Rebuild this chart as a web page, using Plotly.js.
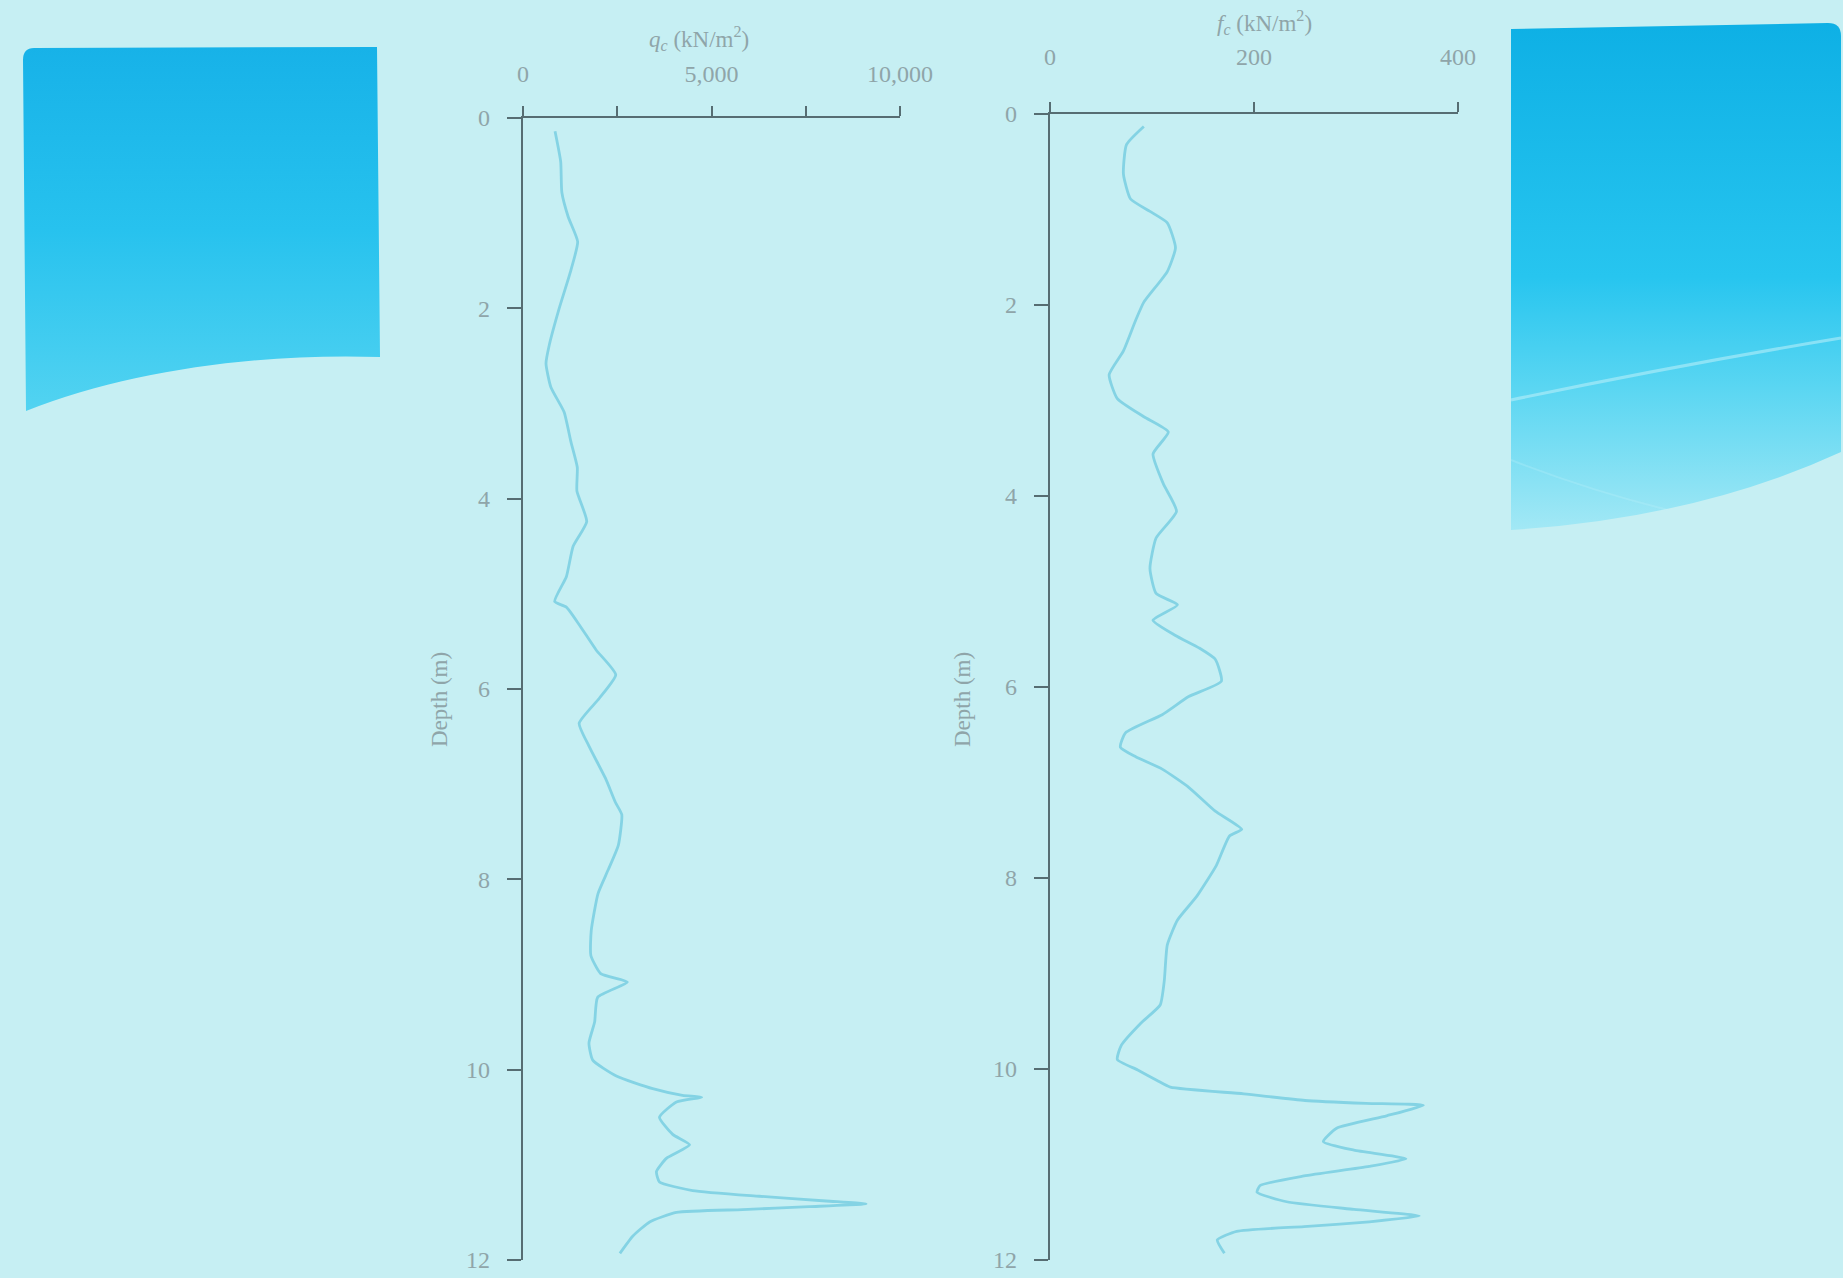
<!DOCTYPE html>
<html>
<head>
<meta charset="utf-8">
<script src="https://cdn.plot.ly/plotly-3.0.1.min.js"></script>
<style>
html,body{margin:0;padding:0;background:#c6eff3;}
#chart{width:1843px;height:1278px;}
</style>
</head>
<body>
<div id="chart"></div>
<script>
// ---- Data (CPT sounding) ----
const depthQc = [0.14,0.46,0.78,1.04,1.3,1.6,2.0,2.38,2.58,2.83,3.09,3.4,3.67,3.92,4.24,4.5,4.82,5.08,5.14,5.33,5.59,5.85,6.1,6.36,6.6,6.94,7.19,7.32,7.64,7.9,8.15,8.54,8.8,8.99,9.08,9.24,9.5,9.72,9.9,10.07,10.2,10.27,10.29,10.34,10.5,10.68,10.79,10.93,11.07,11.18,11.27,11.33,11.38,11.41,11.44,11.47,11.5,11.6,11.75,11.93];
const qc = [850,1000,1030,1200,1450,1270,960,700,610,740,1090,1270,1440,1430,1690,1330,1150,840,1150,1500,1940,2460,2020,1490,1750,2190,2450,2620,2530,2260,1990,1810,1800,2060,2770,1980,1900,1750,1850,2490,3440,4230,4740,4070,3620,3970,4420,3810,3540,3620,4500,6270,8040,9100,7590,5820,4070,3360,2910,2570];

const depthFc = [0.13,0.32,0.63,0.89,1.02,1.14,1.4,1.65,1.97,2.16,2.48,2.73,2.98,3.17,3.33,3.56,3.87,4.16,4.44,4.76,5.02,5.14,5.3,5.46,5.59,5.71,5.94,6.1,6.29,6.48,6.63,6.73,6.86,7.05,7.3,7.49,7.56,7.87,8.19,8.44,8.7,9.08,9.33,9.52,9.75,9.9,10.01,10.12,10.19,10.26,10.33,10.36,10.38,10.49,10.62,10.76,10.85,10.94,11.02,11.12,11.22,11.29,11.39,11.47,11.54,11.6,11.65,11.7,11.79,11.93];
const fc = [92,75,72,79,98,115,123,115,92,84,72,58,66,92,116,101,111,124,104,98,104,125,101,123,146,162,168,136,110,74,69,84,110,136,162,188,176,163,144,125,115,112,108,89,70,66,86,105,118,190,250,310,366,330,281,268,298,349,313,249,206,203,232,298,362,313,249,183,164,171];

const qcTicks = [0,5000,10000];
const qcTickText = ['0','5,000','10,000'];
const qcMinorTicks = [2500,7500];
const fcTicks = [0,200,400];
const fcTickText = ['0','200','400'];
const depthTicks = [0,2,4,6,8,10,12];
const depthTickText = ['0','2','4','6','8','10','12'];

// ---- Styling ----
const W = 1843, H = 1278;
const lineCol = '#84d3e4';
const axisCol = '#566d72';
const textCol = '#8fa5a9';
const serif = 'Liberation Serif, Times New Roman, serif';

function px(x){return x/W;}
function py(y){return 1 - y/H;}

const traces = [
  {x: qc, y: depthQc, xaxis:'x', yaxis:'y', mode:'lines', type:'scatter',
   line:{color:lineCol, width:2.8, shape:'spline', smoothing:0.5}, hoverinfo:'x+y'},
  {x: fc, y: depthFc, xaxis:'x2', yaxis:'y2', mode:'lines', type:'scatter',
   line:{color:lineCol, width:2.8, shape:'spline', smoothing:0.5}, hoverinfo:'x+y'}
];

const tickFont = {family: serif, size: 24, color: textCol};

function xAx(domain, range, vals, text, anchor, standoff, minorVals){
  const ax = {domain: domain, range: range, side:'top', anchor: anchor,
    tickmode:'array', tickvals: vals, ticktext: text,
    ticks:'outside', ticklen:10, tickwidth:2, tickcolor:axisCol,
    showline:true, linewidth:2.2, linecolor:axisCol,
    showgrid:false, zeroline:false, fixedrange:true,
    tickfont: tickFont, ticklabelstandoff: standoff};
  if (minorVals) {
    ax.minor = {tickmode:'array', tickvals: minorVals, ticks:'outside', ticklen:10,
                tickwidth:2, tickcolor:axisCol, showgrid:false};
  }
  return ax;
}
function yAx(domain, anchor){
  return {domain: domain, range:[12,0], anchor: anchor,
    tickmode:'array', tickvals: depthTicks, ticktext: depthTickText,
    ticks:'outside', ticklen:14, tickwidth:2, tickcolor:axisCol,
    showline:true, linewidth:2.2, linecolor:axisCol,
    showgrid:false, zeroline:false, fixedrange:true,
    tickfont: tickFont, ticklabelstandoff: 12};
}

// decorative slide blocks (gradient) as inline SVG images
const leftSvg = '<svg xmlns="http://www.w3.org/2000/svg" width="362" height="370" viewBox="0 0 362 370">'+
 '<defs><linearGradient id="g" x1="0" y1="0" x2="0" y2="1">'+
 '<stop offset="0" stop-color="#17b2e8"/><stop offset="0.5" stop-color="#27c2ee"/><stop offset="1" stop-color="#52d3f1"/></linearGradient></defs>'+
 '<path d="M14,4 L357,3 L360,313 C240,309 110,326 6,367 L3,16 Q3,4 14,4 Z" fill="url(#g)"/></svg>';
const rightSvg = '<svg xmlns="http://www.w3.org/2000/svg" width="335" height="512" viewBox="0 0 335 512">'+
 '<defs><linearGradient id="g" x1="0" y1="0" x2="0" y2="1">'+
 '<stop offset="0" stop-color="#0eb0e5"/><stop offset="0.5" stop-color="#27c5ef"/><stop offset="0.72" stop-color="#5ad6f2"/><stop offset="1" stop-color="#a2e8f5"/></linearGradient></defs>'+
 '<path d="M3,9 L320,3 Q333,3 333,16 L333,432 Q190,498 3,510 Z" fill="url(#g)"/>'+
 '<path d="M3,380 Q170,345 333,318" stroke="#bff0fa" stroke-opacity="0.55" stroke-width="3" fill="none"/>'+
 '<path d="M3,440 Q80,470 160,490" stroke="#c4f2fa" stroke-opacity="0.25" stroke-width="2" fill="none"/>'+
 '</svg>';
function svgUri(s){return 'data:image/svg+xml;charset=utf-8,' + encodeURIComponent(s);}

const titleFont = {family:serif, size:23, color:textCol};

const layout = {
  width: W, height: H,
  margin:{l:0, r:0, t:0, b:0, autoexpand:false},
  paper_bgcolor:'#c6eff3', plot_bgcolor:'rgba(0,0,0,0)',
  showlegend:false,
  xaxis: xAx([px(523), px(900)], [0,10000], qcTicks, qcTickText, 'y', 14, qcMinorTicks),
  yaxis: yAx([py(1260), py(118)], 'x'),
  xaxis2: xAx([px(1050), px(1458)], [0,400], fcTicks, fcTickText, 'y2', 27, null),
  yaxis2: yAx([py(1260), py(114)], 'x2'),
  annotations: [
    {text:'<i>q<sub>c</sub></i> (kN/m<sup>2</sup>)', xref:'paper', yref:'paper', x:px(699), y:py(39),
     xanchor:'center', yanchor:'middle', showarrow:false, font:titleFont},
    {text:'<i>f<sub>c</sub></i> (kN/m<sup>2</sup>)', xref:'paper', yref:'paper', x:px(1264), y:py(22),
     xanchor:'center', yanchor:'middle', showarrow:false, font:titleFont},
    {text:'Depth (m)', xref:'paper', yref:'paper', x:px(439), y:py(700), textangle:-90,
     xanchor:'center', yanchor:'middle', showarrow:false, font:titleFont},
    {text:'Depth (m)', xref:'paper', yref:'paper', x:px(962), y:py(700), textangle:-90,
     xanchor:'center', yanchor:'middle', showarrow:false, font:titleFont}
  ],
  images: [
    {source: svgUri(leftSvg), xref:'paper', yref:'paper', x:px(20), y:py(44),
     sizex:362/W, sizey:370/H, sizing:'stretch', xanchor:'left', yanchor:'top', layer:'below'},
    {source: svgUri(rightSvg), xref:'paper', yref:'paper', x:px(1508), y:py(20),
     sizex:335/W, sizey:512/H, sizing:'stretch', xanchor:'left', yanchor:'top', layer:'below'}
  ]
};

Plotly.newPlot('chart', traces, layout, {displayModeBar:false, staticPlot:true});
</script>
</body>
</html>
